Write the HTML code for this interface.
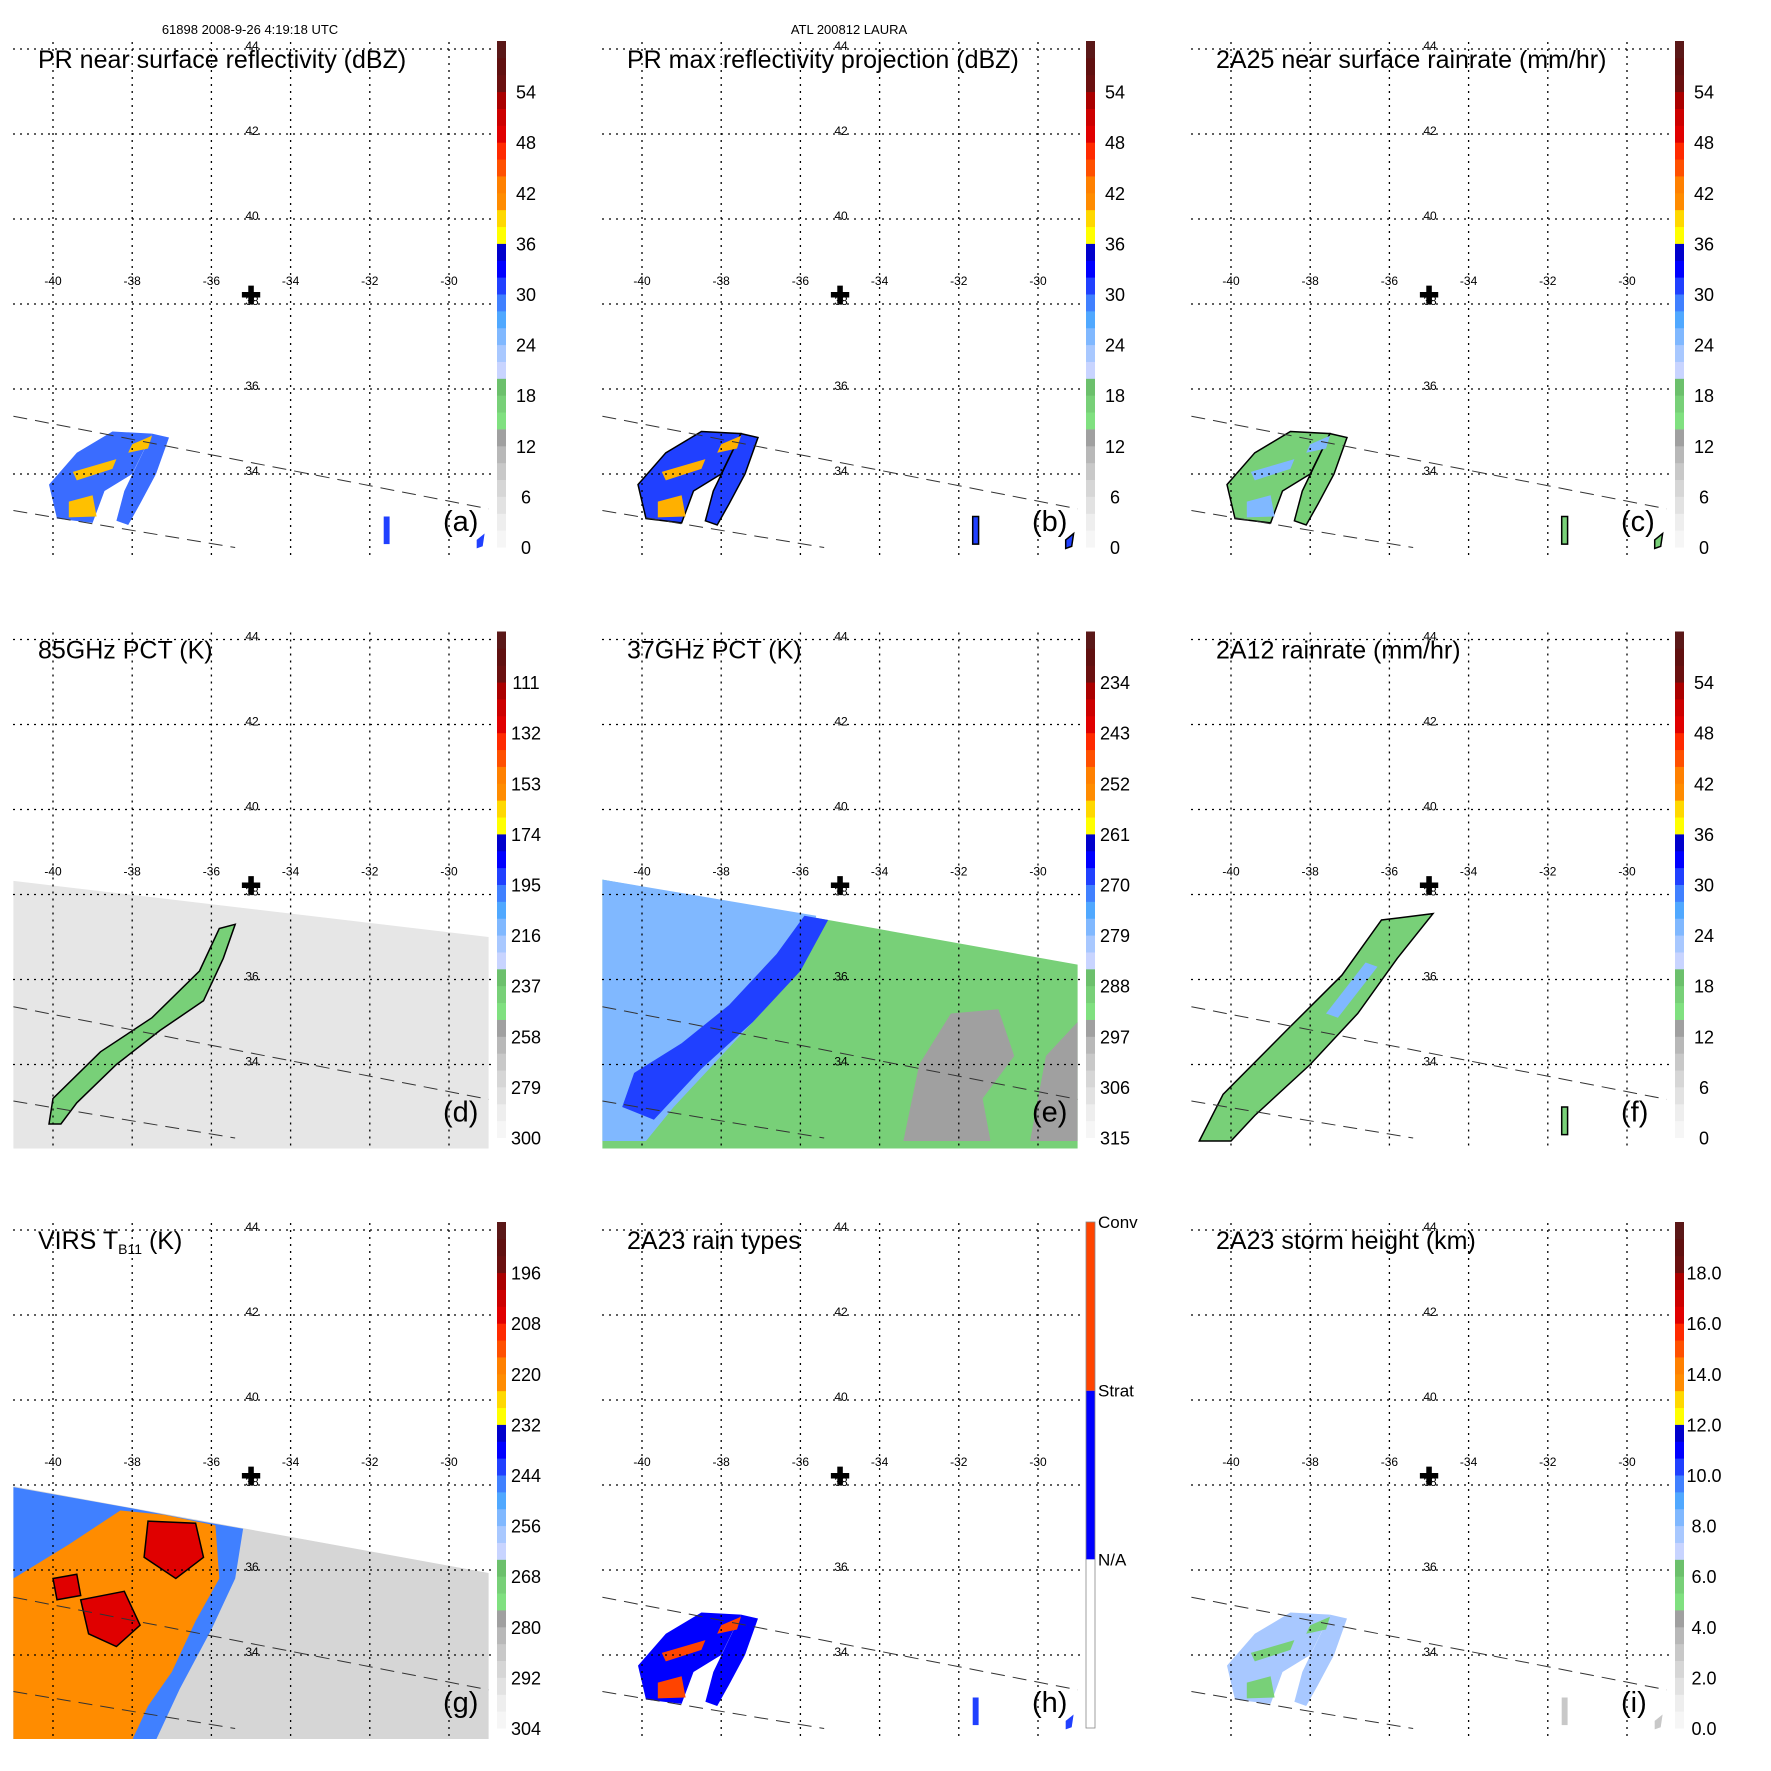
<!DOCTYPE html>
<html><head><meta charset="utf-8"><style>
html,body{margin:0;padding:0;background:#fff}
svg{display:block;font-family:"Liberation Sans",sans-serif}
</style></head><body>
<svg id="chart" width="1771" height="1771" viewBox="0 0 1771 1771" xmlns="http://www.w3.org/2000/svg">
<text x="250" y="34" font-size="13" text-anchor="middle">61898 2008-9-26 4:19:18 UTC</text>
<text x="849" y="34" font-size="13" text-anchor="middle">ATL 200812 LAURA</text>
</svg>
<script>
// ---- data ----
const lonTicks = [-40,-38,-36,-34,-32,-30];
const latTicks = [44,42,40,38,36,34];
const cbColors = ['#f6f6f6','#eeeeee','#e2e2e2','#d6d6d6','#c8c8c8','#b8b8b8','#a0a0a0',
 '#80e080','#78d078','#6cc06c',
 '#c8d4ff','#a8c8ff','#80b8ff','#50a8ff','#4080ff','#2040ff','#0000ff','#0000cc',
 '#ffff00','#ffd800','#ff8c00','#ff8000','#ff5000','#ff2a00','#e00000','#cc0000','#aa0000','#6a1010','#601010','#5a1818'];
const titles = ['PR near surface reflectivity (dBZ)','PR max reflectivity projection (dBZ)','2A25 near surface rainrate (mm/hr)',
 '85GHz PCT (K)','37GHz PCT (K)','2A12 rainrate (mm/hr)','VIRS T','2A23 rain types','2A23 storm height (km)'];
const panelLetters = ['(a)','(b)','(c)','(d)','(e)','(f)','(g)','(h)','(i)'];
const labelsDbz = ['0','6','12','18','24','30','36','42','48','54'];
const labels85 = ['300','279','258','237','216','195','174','153','132','111'];
const labels37 = ['315','306','297','288','279','270','261','252','243','234'];
const labelsVirs = ['304','292','280','268','256','244','232','220','208','196'];
const labelsHgt = ['0.0','2.0','4.0','6.0','8.0','10.0','12.0','14.0','16.0','18.0'];
const cross = [-35.0,38.2];
const prUpper = [[-41,35.36],[-29,33.18]];
const prLower = [[-41,33.14],[-35.4,32.27]];
const rainA1 = [[-38.5,35.0],[-37.5,34.95],[-38.0,34.0],[-38.7,33.6],[-39.0,32.85],[-39.9,32.95],[-40.1,33.75],[-39.4,34.5]];
const rainA2 = [[-37.5,34.95],[-37.07,34.86],[-37.4,34.0],[-37.8,33.3],[-38.1,32.8],[-38.4,32.9],[-38.2,33.6]];
const coreA1 = [[-39.6,33.35],[-39.0,33.5],[-38.9,33.0],[-39.6,32.98]];
const coreA2 = [[-39.5,34.05],[-38.4,34.35],[-38.5,34.12],[-39.4,33.85]];
const coreA3 = [[-38.0,34.7],[-37.5,34.9],[-37.6,34.6],[-38.1,34.5]];
const echo1 = [[-31.65,33.0],[-31.5,33.0],[-31.5,32.35],[-31.65,32.35]];
const echo2 = [[-29.3,32.45],[-29.1,32.6],[-29.15,32.3],[-29.3,32.25]];
const tmiEdgeD = [[-41,38.32],[-29,37.0]];
const bandD = [[-40.1,32.6],[-40.0,33.2],[-38.8,34.3],[-37.5,35.1],[-36.3,36.2],[-35.8,37.2],[-35.4,37.3],[-35.7,36.5],[-36.2,35.5],[-37.3,34.8],[-38.4,34.0],[-39.4,33.1],[-39.8,32.6]];
const tmiEdgeE = [[-41,38.35],[-29,36.35]];
const lightE = [[-41,38.35],[-35.6,37.5],[-35.8,36.6],[-36.8,35.4],[-38.0,34.2],[-39.2,33.0],[-39.9,32.2],[-41,32.2]];
const blueE = [[-40.5,33.0],[-40.2,33.8],[-39.0,34.5],[-37.8,35.4],[-36.6,36.6],[-35.9,37.5],[-35.3,37.4],[-36.0,36.2],[-37.2,35.0],[-38.5,33.9],[-39.7,32.7]];
const grayE1 = [[-33.4,32.2],[-33.0,34.0],[-32.2,35.2],[-31.0,35.3],[-30.6,34.2],[-31.4,33.2],[-31.2,32.2]];
const grayE2 = [[-30.2,32.2],[-29.8,34.2],[-29,35.0],[-29,32.2]];
const bandF = [[-40.8,32.2],[-40.2,33.3],[-38.6,34.8],[-37.2,36.1],[-36.2,37.4],[-34.9,37.55],[-35.8,36.5],[-36.8,35.2],[-38.0,34.0],[-39.4,32.8],[-40.0,32.2]];
const blueF = [[-37.6,35.2],[-36.6,36.4],[-36.3,36.3],[-37.3,35.1]];
const virsEdge = [[-41,37.97],[-29,35.93]];
const blueG = [[-41,32.0],[-41,37.95],[-38.0,37.45],[-36.6,37.2],[-35.2,36.97],[-35.4,35.8],[-36.0,34.6],[-36.8,33.2],[-37.4,32.0]];
const orangeG = [[-41,32.0],[-41,35.8],[-39.6,36.6],[-38.3,37.4],[-37.2,37.3],[-35.9,37.05],[-35.8,35.8],[-36.4,34.8],[-37.0,33.6],[-37.6,32.8],[-38.0,32.0]];
const redG1 = [[-37.6,37.15],[-36.4,37.1],[-36.2,36.3],[-36.9,35.8],[-37.7,36.3]];
const redG2 = [[-39.3,35.3],[-38.2,35.5],[-37.8,34.7],[-38.4,34.2],[-39.1,34.5]];
const redG3 = [[-40.0,35.8],[-39.4,35.9],[-39.3,35.4],[-39.9,35.3]];
</script>
<script>
const svg = document.getElementById('chart');
const NS = 'http://www.w3.org/2000/svg';
const COLW = 589, ROWH = 590.5;
function lonX(lon){ return 53 + (lon + 40) * 39.6; }
function latY(lat){ return 49 + (44 - lat) * 42.5; }
function mk(tag, attrs, parent){ const e = document.createElementNS(NS, tag); for (const k in attrs) e.setAttribute(k, attrs[k]); parent.appendChild(e); return e; }
function pts(arr){ return arr.map(p => lonX(p[0]).toFixed(1) + ',' + latY(p[1]).toFixed(1)).join(' '); }
function poly(g, arr, fill, stroke, name){
  const e = mk('polygon', {points: pts(arr), fill: fill, stroke: stroke || 'none', 'stroke-width': 1.5}, g);
  
  
  return e;
}
function line(g, arr, dash, name){
  const e = mk('line', {x1: lonX(arr[0][0]), y1: latY(arr[0][1]), x2: lonX(arr[1][0]), y2: latY(arr[1][1]), stroke: '#333', 'stroke-width': 1, 'stroke-dasharray': dash}, g);
  
  
}
function swathFill(g, edge, fill, name){
  const arr = [edge[0], edge[1], [-29, 32.0], [-41, 32.0]];
  poly(g, arr, fill, 'none', name);
}
function colorbar(g, labels, special){
  const x = 497, top = 41, bot = 547, w = 9;
  if (special) {
    const segs = [['#ffffff',0,1/3],['#0000ff',1/3,2/3],['#ff4400',2/3,1]];
    segs.forEach(s => {
      const r = mk('rect', {x: x, y: bot - (bot-top)*s[2], width: w, height: (bot-top)*(s[2]-s[1]), fill: s[0]}, g);
      
      
    });
    const o = mk('rect', {x: x, y: top, width: w, height: bot-top, fill: 'none', stroke: '#888', 'stroke-width': 0.8}, g);
    
    
    ['N/A','Strat','Conv'].forEach((t, i) => {
      const tx = mk('text', {x: x + 12, y: bot - (bot-top)*(i+1)/3 + 6, 'font-size': 17}, g);
      tx.textContent = t;
      
      
    });
    return;
  }
  const n = cbColors.length, h = (bot - top) / n;
  cbColors.forEach((c, i) => {
    const r = mk('rect', {x: x, y: bot - (i+1)*h, width: w, height: h + 0.5, fill: c}, g);
    
    
  });
  labels.forEach((t, i) => {
    const y = bot - (bot - top) * i / 10;
    const tx = mk('text', {x: x + 29, y: y + 7, 'font-size': 18, 'text-anchor': 'middle'}, g);
    tx.textContent = t;
    
    
  });
}
function grid(g){
  lonTicks.forEach(lon => {
    const l = mk('line', {x1: lonX(lon), x2: lonX(lon), y1: 42, y2: 558, stroke: '#000', 'stroke-width': 1.3, 'stroke-dasharray': '2,5'}, g);
    
    
    const t = mk('text', {x: lonX(lon), y: 285, 'font-size': 12, 'text-anchor': 'middle'}, g);
    t.textContent = lon;
    
    
  });
  latTicks.forEach(lat => {
    const l = mk('line', {x1: 13, x2: 492, y1: latY(lat), y2: latY(lat), stroke: '#000', 'stroke-width': 1.3, 'stroke-dasharray': '2,5'}, g);
    
    
    const t = mk('text', {x: 252, y: latY(lat) + 1, 'font-size': 12, 'text-anchor': 'middle'}, g);
    t.textContent = lat;
    
    
  });
  const c = mk('text', {x: lonX(cross[0]), y: latY(cross[1]) + 8, 'font-size': 24, 'font-weight': 'bold', 'text-anchor': 'middle'}, g);
  c.textContent = '✚';
  
  
}
function prRain(g, k){
  const fills = {0:['#3a6cff','#ffc000'],1:['#2040ff','#ffb000'],2:['#78d078','#80b8ff'],7:['#0000ff','#ff4400'],8:['#a8c8ff','#78d078']}[k];
  const outline = (k === 1 || k === 2) ? '#000' : 'none';
  poly(g, rainA1, fills[0], outline, 'rain-area');
  poly(g, rainA2, fills[0], outline, 'rain-area');
  poly(g, coreA1, fills[1], 'none', 'rain-core');
  poly(g, coreA2, fills[1], 'none', 'rain-core');
  poly(g, coreA3, fills[1], 'none', 'rain-core');
  const ec = k === 8 ? '#c8c8c8' : (k === 2 ? '#78d078' : '#2040ff');
  poly(g, echo1, ec, outline, 'small-echo');
  poly(g, echo2, ec, outline, 'small-echo');
  line(g, prUpper, '14,8', 'pr-swath-edge');
  line(g, prLower, '14,8', 'pr-swath-edge');
}
for (let k = 0; k < 9; k++){
  const col = k % 3, row = Math.floor(k / 3);
  const g = mk('g', {transform: 'translate(' + (col*COLW) + ',' + (row*ROWH) + ')'}, svg);
  
  
  const clipId = 'clip' + k;
  const cp = mk('clipPath', {id: clipId}, g);
  mk('rect', {x: 13, y: 42, width: 479, height: 516}, cp);
  const m = mk('g', {'clip-path': 'url(#' + clipId + ')'}, g);
  
  
  if ([0,1,2,7,8].includes(k)) prRain(m, k);
  if (k === 3){
    swathFill(m, tmiEdgeD, '#e6e6e6', 'tmi-swath');
    poly(m, bandD, '#78d078', '#000', 'rain-band');
    line(m, prUpper, '14,8', 'pr-swath-edge'); line(m, prLower, '14,8', 'pr-swath-edge');
  }
  if (k === 4){
    swathFill(m, tmiEdgeE, '#78d078', 'tmi-swath');
    poly(m, grayE1, '#a0a0a0', 'none', 'warm-area');
    poly(m, grayE2, '#a0a0a0', 'none', 'warm-area');
    poly(m, lightE, '#80b8ff', 'none', 'cold-area');
    poly(m, blueE, '#2040ff', 'none', 'scattering-band');
    line(m, prUpper, '14,8', 'pr-swath-edge'); line(m, prLower, '14,8', 'pr-swath-edge');
  }
  if (k === 5){
    poly(m, bandF, '#78d078', '#000', 'rain-band');
    poly(m, blueF, '#80b8ff', 'none', 'rain-core');
    poly(m, echo1, '#78d078', '#000', 'small-echo');
    line(m, prUpper, '14,8', 'pr-swath-edge'); line(m, prLower, '14,8', 'pr-swath-edge');
  }
  if (k === 6){
    swathFill(m, virsEdge, '#d6d6d6', 'virs-swath');
    poly(m, blueG, '#4080ff', 'none', 'cloud-edge');
    poly(m, orangeG, '#ff8c00', 'none', 'cold-cloud');
    poly(m, redG1, '#e00000', '#000', 'coldest-cloud');
    poly(m, redG2, '#e00000', '#000', 'coldest-cloud');
    poly(m, redG3, '#e00000', '#000', 'coldest-cloud');
    line(m, prUpper, '14,8', 'pr-swath-edge'); line(m, prLower, '14,8', 'pr-swath-edge');
  }
  grid(g);
  const t = mk('text', {x: 38, y: 68, 'font-size': 25}, g);
  t.textContent = titles[k];
  if (k === 6){ const s = mk('tspan', {'font-size': 14, dy: 5}, t); s.textContent = 'B11'; const s2 = mk('tspan', {dy: -5}, t); s2.textContent = ' (K)'; }
  
  
  const lt = mk('text', {x: 443, y: 531, 'font-size': 29}, g);
  lt.textContent = panelLetters[k];
  
  
  const lab = [labelsDbz, labelsDbz, labelsDbz, labels85, labels37, labelsDbz, labelsVirs, null, labelsHgt][k];
  const cb = mk('g', {}, g);
  
  
  colorbar(cb, lab, k === 7);
}
</script>
</body></html>
